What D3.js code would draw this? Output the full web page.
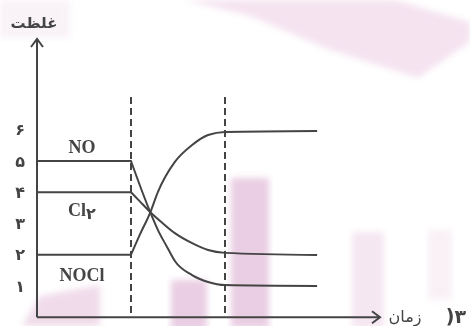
<!DOCTYPE html>
<html>
<head>
<meta charset="utf-8">
<script src="https://cdn.jsdelivr.net/npm/d3@7"></script>
<style>
  html, body { margin: 0; padding: 0; background: #fff; }
  svg { display: block; }
</style>
</head>
<body>
<svg id="chart" width="470" height="326"></svg>
<script>
// Concentration values, [time, value]
const noData = [[0, 5], [3, 5], [3.29, 4.2], [3.61, 3.37], [3.86, 2.79], [4.15, 2.25], [4.4, 1.8], [4.95, 1.35], [5.46, 1.13], [6, 1.03], [8.94, 1.0]];
const cl2Data = [[0, 4], [3, 4], [3.29, 3.7], [3.61, 3.37], [3.93, 3.08], [4.4, 2.69], [4.95, 2.37], [5.46, 2.15], [6, 2.06], [8.94, 1.99]];
const noclData = [[0, 2], [3, 2], [3.29, 2.66], [3.61, 3.34], [3.86, 4.01], [4.4, 4.97], [4.95, 5.51], [5.46, 5.83], [6, 5.93], [8.94, 5.96]];

// Times of the two dashed markers
const markerTimes = [3, 6];

// Tick values and their Persian labels
const tickValues = [1, 2, 3, 4, 5, 6];
const tickLabels = ["۱", "۲", "۳", "۴", "۵", "۶"];

const svg = d3.select("#chart");
const ink = "#444";

// faint watermark behind the chart
const wm = svg.append("g").attr("opacity", 0.6);
const defs = svg.append("defs");
defs.append("filter").attr("id", "soft").append("feGaussianBlur").attr("stdDeviation", 3);
wm.append("polygon")
    .attr("points", "185,0 395,0 470,22 470,42 418,78 330,50 250,16")
    .attr("fill", "#eac6e0").attr("filter", "url(#soft)").attr("opacity", 0.8);
wm.append("rect").attr("x", 0).attr("y", 0).attr("width", 70).attr("height", 38)
    .attr("fill", "#f6eaf2").attr("filter", "url(#soft)");
wm.append("rect").attr("x", 231).attr("y", 178).attr("width", 38).attr("height", 150)
    .attr("fill", "#dcaed0").attr("filter", "url(#soft)");
wm.append("rect").attr("x", 171).attr("y", 280).attr("width", 36).attr("height", 50)
    .attr("fill", "#dcaed0").attr("filter", "url(#soft)");
wm.append("rect").attr("x", 352).attr("y", 232).attr("width", 32).attr("height", 96)
    .attr("fill", "#efd7e8").attr("filter", "url(#soft)");
wm.append("rect").attr("x", 428).attr("y", 230).attr("width", 24).attr("height", 70)
    .attr("fill", "#f5e6f0").attr("filter", "url(#soft)");
wm.append("polygon").attr("points", "22,326 40,296 100,285 100,326")
    .attr("fill", "#e6c4dc").attr("filter", "url(#soft)");

const x = d3.scaleLinear().domain([0, 9]).range([37, 319]);
const y = d3.scaleLinear().domain([0, 6]).range([317.25, 129.75]);

// y axis labels (no ticks)
const yAxis = svg.append("g")
    .attr("transform", `translate(${x(0)},0)`)
    .call(d3.axisLeft(y).tickValues(tickValues).tickSize(0).tickFormat((d, i) => tickLabels[i]));
yAxis.select(".domain").remove();
yAxis.selectAll("text")
    .attr("x", -17)
    .attr("text-anchor", "middle")
    .attr("font-family", "DejaVu Sans")
    .attr("font-weight", "bold")
    .attr("font-size", 16)
    .attr("fill", ink);

// axis lines with open arrowheads
const axisG = svg.append("g").attr("stroke", ink).attr("stroke-width", 2).attr("fill", "none");
axisG.append("line").attr("x1", x(0)).attr("y1", y(0)).attr("x2", x(0)).attr("y2", 39);
axisG.append("polyline").attr("points", `${x(0) - 6},47 ${x(0)},39 ${x(0) + 6},47`);
axisG.append("line").attr("x1", x(0)).attr("y1", y(0)).attr("x2", 380).attr("y2", y(0));
axisG.append("polyline").attr("points", `372,${y(0) - 6} 380,${y(0)} 372,${y(0) + 6}`);

// dashed markers
svg.selectAll(".marker")
    .data(markerTimes)
    .enter()
    .append("line")
    .attr("class", "marker")
    .attr("x1", d => x(d)).attr("x2", d => x(d))
    .attr("y1", 97).attr("y2", y(0))
    .attr("stroke", ink)
    .attr("stroke-width", 2)
    .attr("stroke-dasharray", "7,4");

// series: flat part straight, change part smoothed
const flat = d3.line().x(d => x(d[0])).y(d => y(d[1]));
const smooth = d3.line().x(d => x(d[0])).y(d => y(d[1])).curve(d3.curveMonotoneX);

[noData, cl2Data, noclData].forEach(data => {
    svg.append("path")
        .attr("d", flat(data.slice(0, 2)) + smooth(data.slice(1)).replace(/^M[^CL]*/, ""))
        .attr("fill", "none")
        .attr("stroke", ink)
        .attr("stroke-width", 2);
});

// series names
const nameStyle = sel => sel
    .attr("font-family", "Liberation Serif")
    .attr("font-weight", "bold")
    .attr("font-size", 18)
    .attr("fill", ink)
    .attr("text-anchor", "middle");

svg.append("text").attr("x", 82).attr("y", 153).text("NO").call(nameStyle);
const clText = svg.append("text").attr("x", 82).attr("y", 216).call(nameStyle);
clText.append("tspan").text("Cl");
clText.append("tspan").attr("font-family", "DejaVu Sans").attr("font-size", 16).attr("dy", 3).text("۲");
svg.append("text").attr("x", 82).attr("y", 281).text("NOCl").call(nameStyle);

// axis titles
svg.append("text")
    .attr("x", 34).attr("y", 28)
    .attr("text-anchor", "middle")
    .attr("font-family", "DejaVu Sans")
    .attr("font-weight", "bold")
    .attr("font-size", 15)
    .attr("fill", ink)
    .text("غلظت");

svg.append("text")
    .attr("x", 405).attr("y", 322)
    .attr("text-anchor", "middle")
    .attr("font-family", "DejaVu Sans")
    .attr("font-size", 16)
    .attr("fill", ink)
    .text("زمان");

svg.append("text")
    .attr("x", 456).attr("y", 323)
    .attr("text-anchor", "middle")
    .attr("font-family", "DejaVu Sans")
    .attr("font-weight", "bold")
    .attr("font-size", 19)
    .attr("fill", ink)
    .text(")۳");
</script>
</body>
</html>
